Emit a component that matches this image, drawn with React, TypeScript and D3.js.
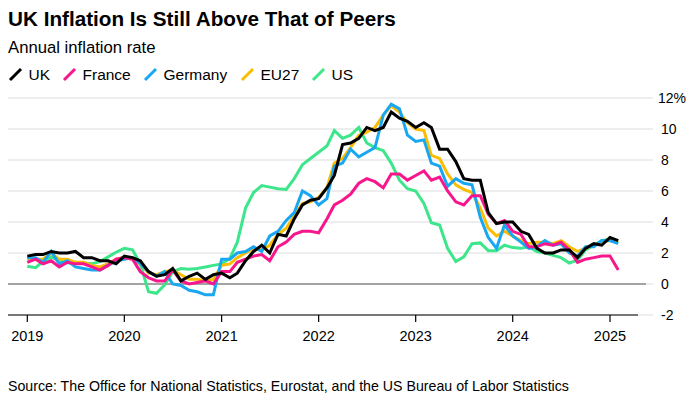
import React from "react";
import * as d3 from "d3";

// Monthly annual inflation rates, Jan 2019 onward (%)
const ukValues = [
  1.8, 1.9, 1.9, 2.1, 2.0, 2.0, 2.1, 1.7, 1.7, 1.5, 1.5, 1.3,
  1.8, 1.7, 1.5, 0.8, 0.5, 0.6, 1.0, 0.2, 0.5, 0.7, 0.3, 0.6,
  0.7, 0.4, 0.7, 1.5, 2.1, 2.5, 2.0, 3.2, 3.1, 4.2, 5.1, 5.4,
  5.5, 6.2, 7.0, 9.0, 9.1, 9.4, 10.1, 9.9, 10.1, 11.1, 10.7, 10.5,
  10.1, 10.4, 10.1, 8.7, 8.7, 7.9, 6.8, 6.7, 6.7, 4.6, 3.9, 4.0,
  4.0, 3.4, 3.2, 2.3, 2.0, 2.0, 2.2, 2.2, 1.7, 2.3, 2.6, 2.5,
  3.0, 2.8,
];
const franceValues = [
  1.4, 1.6, 1.3, 1.5, 1.1, 1.4, 1.3, 1.3, 1.1, 0.9, 1.2, 1.6,
  1.7, 1.6, 0.8, 0.4, 0.2, 0.2, 0.9, 0.2, 0.0, 0.1, 0.2, 0.0,
  0.8, 0.8, 1.4, 1.6, 1.8, 1.9, 1.5, 2.4, 2.7, 3.2, 3.4, 3.4,
  3.3, 4.2, 5.1, 5.4, 5.8, 6.5, 6.8, 6.6, 6.2, 7.1, 7.1, 6.7,
  7.0, 7.3, 6.7, 6.9, 6.0, 5.3, 5.1, 5.7, 5.7, 4.5, 3.9, 4.1,
  3.4, 3.2, 2.4, 2.4, 2.6, 2.5, 2.7, 2.2, 1.4, 1.6, 1.7, 1.8,
  1.8, 0.9,
];
const germanyValues = [
  1.7, 1.7, 1.4, 2.1, 1.3, 1.5, 1.1, 1.0, 0.9, 0.9, 1.2, 1.5,
  1.6, 1.7, 1.3, 0.8, 0.5, 0.8, 0.0, -0.1, -0.4, -0.5, -0.7, -0.7,
  1.6, 1.6, 2.0, 2.1, 2.4, 2.1, 3.1, 3.4, 4.1, 4.6, 6.0, 5.7,
  5.1, 5.5, 7.6, 7.8, 8.7, 8.2, 8.5, 8.8, 10.9, 11.6, 11.3, 9.6,
  9.2, 9.3, 7.8, 7.6, 6.3, 6.8, 6.5, 6.4, 4.3, 3.0, 2.3, 3.8,
  3.1, 2.7, 2.3, 2.4, 2.8, 2.5, 2.6, 2.0, 1.8, 2.4, 2.4, 2.8,
  2.8, 2.6,
];
const eu27Values = [
  1.6, 1.6, 1.6, 2.0, 1.6, 1.6, 1.4, 1.4, 1.2, 1.1, 1.3, 1.6,
  1.7, 1.6, 1.3, 0.7, 0.6, 0.8, 0.9, 0.6, 0.3, 0.3, 0.2, 0.3,
  1.2, 1.3, 1.7, 2.0, 2.3, 2.2, 2.5, 3.2, 3.6, 4.4, 5.2, 5.3,
  5.6, 6.2, 7.8, 8.1, 8.8, 9.6, 9.8, 10.1, 10.9, 11.5, 11.1, 10.4,
  10.0, 9.9, 8.3, 8.1, 7.1, 6.4, 6.1, 5.9, 4.9, 3.6, 3.1, 3.4,
  3.1, 2.8, 2.6, 2.7, 2.7, 2.6, 2.8, 2.4, 2.1, 2.3, 2.5, 2.7,
  2.8, 2.7,
];
const usValues = [
  1.15, 1.05, 1.45, 1.75, 1.5, 1.35, 1.4, 1.35, 1.3, 1.45, 1.75, 2.05,
  2.3, 2.2, 1.3, -0.5, -0.6, -0.05, 0.8, 1.0, 0.95, 1.0, 1.1, 1.2,
  1.3, 1.65, 2.7, 4.9, 5.9, 6.35, 6.25, 6.15, 6.1, 6.8, 7.7, 8.1,
  8.5, 8.9, 9.9, 9.4, 9.6, 10.1, 9.1, 8.8, 8.6, 7.8, 6.7, 6.15,
  6.0, 5.2, 3.95, 3.8, 2.3, 1.45, 1.75, 2.6, 2.65, 2.15, 2.15, 2.5,
  2.35, 2.3, 2.4, 2.1, 2.0, 1.85, 1.7, 1.35, 1.55, 2.2, 2.5, 2.8,
  2.9,
];

const seriesNames = ["UK", "France", "Germany", "EU27", "US"];
const seriesColors = ["#000000", "#f7168c", "#1aa7f2", "#fcbd00", "#3de68b"];
const seriesData = [ukValues, franceValues, germanyValues, eu27Values, usValues];
const drawOrder = [4, 3, 2, 1, 0];

const yTicks = [-2, 0, 2, 4, 6, 8, 10, 12];
const xTickYears = [2019, 2020, 2021, 2022, 2023, 2024, 2025];

const WIDTH = 694;
const HEIGHT = 402;
const PLOT_LEFT = 8;
const GRID_RIGHT = 653;
const ZERO_RIGHT = 646;
const AXIS_RIGHT = 638;
const FONT = "'Liberation Sans', Arial, Helvetica, sans-serif";

const legendX = [9, 63, 144, 241, 312];

export default function App() {
  const x = d3
    .scaleTime()
    .domain([new Date(2019, 0, 1), new Date(2025, 0, 1)])
    .range([27.3, 610]);
  const y = d3.scaleLinear().domain([-2, 12]).range([315, 98]);

  const monthDate = (i: number) => new Date(2019, i, 1);

  const line = d3
    .line<number>()
    .x((_, i) => x(monthDate(i)))
    .y((d) => y(d));

  return (
    <svg
      width={WIDTH}
      height={HEIGHT}
      style={{ position: "absolute", left: 0, top: 0, background: "#fff" }}
      fontFamily={FONT}
    >
      <text x={8} y={26} fontSize={20.7} fontWeight="bold" fill="#000">
        UK Inflation Is Still Above That of Peers
      </text>
      <text x={8} y={53} fontSize={16.7} fill="#000">
        Annual inflation rate
      </text>

      {/* legend */}
      {seriesNames.map((name, i) => (
        <g key={name} transform={`translate(${legendX[i]}, 0)`}>
          <line
            x1={1}
            y1={80}
            x2={12}
            y2={69}
            stroke={seriesColors[i]}
            strokeWidth={3}
          />
          <text x={19.5} y={80} fontSize={15.5} fill="#000">
            {name}
          </text>
        </g>
      ))}

      {/* grid */}
      {yTicks.map((t) => (
        <line
          key={t}
          x1={PLOT_LEFT}
          x2={GRID_RIGHT}
          y1={y(t)}
          y2={y(t)}
          stroke="#dcdcdc"
          strokeWidth={1}
        />
      ))}
      <line
        x1={PLOT_LEFT}
        x2={ZERO_RIGHT}
        y1={y(0)}
        y2={y(0)}
        stroke="#8a8a8a"
        strokeWidth={1.5}
      />
      {yTicks.map((t) => (
        <text key={t} x={t === 12 ? 658 : 661} y={y(t) + 5} fontSize={14} fill="#000">
          {t === 12 ? "12%" : t}
        </text>
      ))}

      {/* series */}
      {drawOrder.map((k) => (
        <path
          key={seriesNames[k]}
          d={line(seriesData[k]) || ""}
          fill="none"
          stroke={seriesColors[k]}
          strokeWidth={3}
        />
      ))}

      {/* x axis */}
      <line
        x1={PLOT_LEFT}
        x2={AXIS_RIGHT}
        y1={y(-2)}
        y2={y(-2)}
        stroke="#000"
        strokeWidth={1.2}
      />
      {xTickYears.map((yr) => {
        const px = x(new Date(yr, 0, 1));
        return (
          <g key={yr}>
            <line
              x1={px}
              x2={px}
              y1={y(-2)}
              y2={y(-2) + 7}
              stroke="#000"
              strokeWidth={1.2}
            />
            <text
              x={px}
              y={y(-2) + 26}
              fontSize={14.5}
              textAnchor="middle"
              fill="#000"
            >
              {yr}
            </text>
          </g>
        );
      })}

      <text x={8} y={391} fontSize={14.2} fill="#000">
        Source: The Office for National Statistics, Eurostat, and the US Bureau
        of Labor Statistics
      </text>
    </svg>
  );
}
